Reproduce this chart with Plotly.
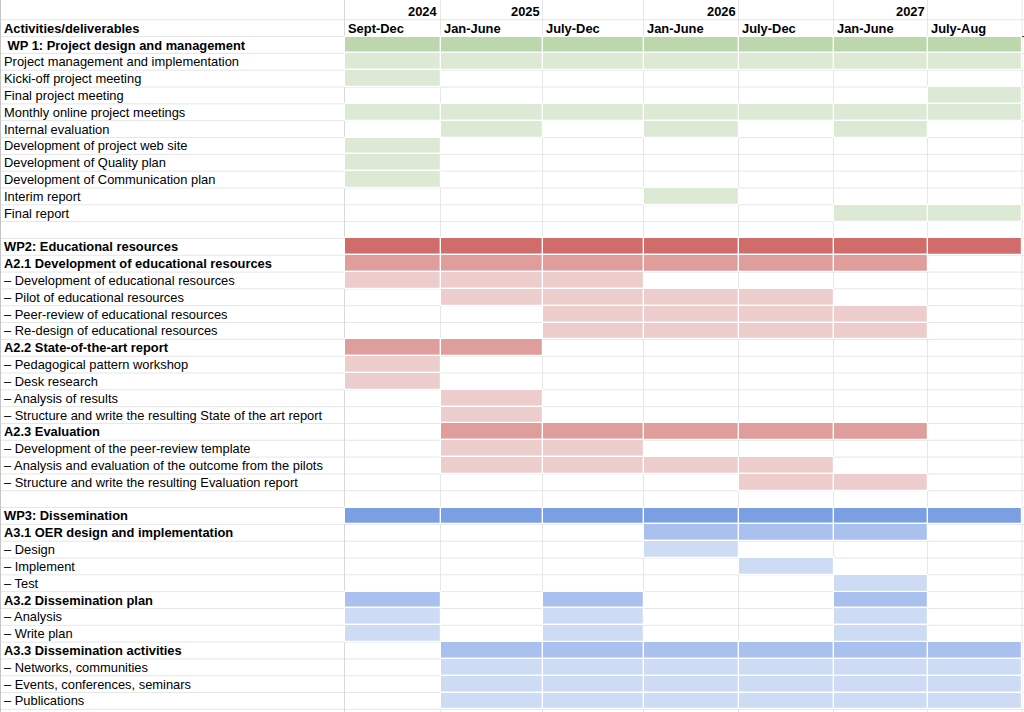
import plotly.graph_objects as go

# ---------------- data ----------------
PERIODS = ["Sept-Dec", "Jan-June", "July-Dec", "Jan-June", "July-Dec", "Jan-June", "July-Aug"]
YEARS = ["2024", "2025", "", "2026", "", "2027", ""]
HEADER = "Activities/deliverables"

ACTIVITIES = [
    "\u00a0WP 1: Project design and management",
    "Project management and implementation",
    "Kicki-off project meeting",
    "Final project meeting",
    "Monthly online project meetings",
    "Internal evaluation",
    "Development of project web site",
    "Development of Quality plan",
    "Development of Communication plan",
    "Interim report",
    "Final report",
    "",
    "WP2: Educational resources",
    "A2.1 Development of educational resources",
    "– Development of educational resources",
    "– Pilot of educational resources",
    "– Peer-review of educational resources",
    "– Re-design of educational resources",
    "A2.2 State-of-the-art report",
    "– Pedagogical pattern workshop",
    "– Desk research",
    "– Analysis of results",
    "– Structure and write the resulting State of the art report",
    "A2.3 Evaluation",
    "– Development of the peer-review template",
    "– Analysis and evaluation of the outcome from the pilots",
    "– Structure and write the resulting Evaluation report",
    "",
    "WP3: Dissemination",
    "A3.1 OER design and implementation",
    "– Design",
    "– Implement",
    "– Test",
    "A3.2 Dissemination plan",
    "– Analysis",
    "– Write plan",
    "A3.3 Dissemination activities",
    "– Networks, communities",
    "– Events, conferences, seminars",
    "– Publications",
]

# work package of each row
WORKPACKAGE = (["WP1"] * 11 + [""] + ["WP2"] * 15 + [""] + ["WP3"] * 12)

# level: 0 = work package, 1 = activity, 2 = task
LEVEL = [
    0, 2, 2, 2, 2, 2, 2, 2, 2, 2, 2,
    -1,
    0, 1, 2, 2, 2, 2, 1, 2, 2, 2, 2, 1, 2, 2, 2,
    -1,
    0, 1, 2, 2, 2, 1, 2, 2, 1, 2, 2, 2,
]

# 1 = active in period (Sept-Dec 2024 ... July-Aug 2027)
SCHEDULE = [
    "1111111",
    "1111111",
    "1000000",
    "0000001",
    "1111111",
    "0101010",
    "1000000",
    "1000000",
    "1000000",
    "0001000",
    "0000011",
    "0000000",
    "1111111",
    "1111110",
    "1110000",
    "0111100",
    "0011110",
    "0011110",
    "1100000",
    "1000000",
    "1000000",
    "0100000",
    "0100000",
    "0111110",
    "0110000",
    "0111100",
    "0000110",
    "0000000",
    "1111111",
    "0001110",
    "0001000",
    "0000100",
    "0000010",
    "1010010",
    "1010010",
    "1010010",
    "0111111",
    "0111111",
    "0111111",
    "0111111",
]

# ---------------- styles / layout ----------------
COLORS = {
    ("WP1", 0): "#bcd7ab",
    ("WP1", 2): "#dce9d4",
    ("WP2", 0): "#d06c6a",
    ("WP2", 1): "#df9d9b",
    ("WP2", 2): "#edcdcc",
    ("WP3", 0): "#7a9fe3",
    ("WP3", 1): "#aac0ee",
    ("WP3", 2): "#cddbf4",
}
LABEL_COL_RIGHT = 344.5
COL_WIDTHS = [96, 102, 101, 95, 95, 94, 94.5]
FIG_W, FIG_H = 1024, 712
ROW_PX = 16.82
FIRST_ROW_CENTER_PX = 45
FONT = "Liberation Sans, Arial, Helvetica, sans-serif"
FS = 12.9
GRID = "#e6e6e6"
TEXT_PAD = 2

col_edges = [LABEL_COL_RIGHT]
for w in COL_WIDTHS:
    col_edges.append(col_edges[-1] + w)

y_top = -FIRST_ROW_CENTER_PX / ROW_PX
y_bottom = (FIG_H - FIRST_ROW_CENTER_PX) / ROW_PX
n_rows = len(ACTIVITIES)

fig = go.Figure()

# grid lines
shapes = []
for k in range(-2, n_rows):
    yb = k + 0.5
    shapes.append(dict(type="line", xref="x", yref="y", x0=0, x1=FIG_W, y0=yb, y1=yb,
                       line=dict(color=GRID, width=1), layer="below"))
for j, xe in enumerate(col_edges):
    shapes.append(dict(type="line", xref="x", yref="y", x0=xe, x1=xe, y0=y_top, y1=y_bottom,
                       line=dict(color="#d9d9d9" if j == 0 else GRID, width=1), layer="below"))
shapes.append(dict(type="line", xref="x", yref="y", x0=0.5, x1=0.5, y0=y_top, y1=y_bottom,
                   line=dict(color="#c4c4c4", width=1), layer="below"))
shapes.append(dict(type="line", xref="x", yref="y", x0=col_edges[-1], x1=FIG_W, y0=-0.5, y1=-0.5,
                   line=dict(color="#333333", width=1)))

# cells as horizontal bars grouped by colour
groups = {}
for i, (wp, lvl, sched) in enumerate(zip(WORKPACKAGE, LEVEL, SCHEDULE)):
    if lvl < 0:
        continue
    for c, flag in enumerate(sched):
        if flag == "1":
            key = (wp, lvl)
            groups.setdefault(key, {"y": [], "x": [], "base": []})
            groups[key]["y"].append(i)
            groups[key]["base"].append(col_edges[c])
            groups[key]["x"].append(col_edges[c + 1] - col_edges[c])

for key, g in groups.items():
    fig.add_trace(go.Bar(
        orientation="h", y=g["y"], x=g["x"], base=g["base"], width=1,
        marker=dict(color=COLORS[key], line=dict(color="#ffffff", width=1.2)),
        hoverinfo="skip", showlegend=False,
    ))

# texts
ann = []
def add_text(x, y, text, bold=False, anchor="left"):
    ann.append(dict(x=x, y=y, xref="x", yref="y", text=f"<b>{text}</b>" if bold else text,
                    showarrow=False, xanchor=anchor, yanchor="middle",
                    font=dict(family=FONT, size=FS, color="#000000")))

add_text(TEXT_PAD, -1, HEADER, bold=True)
for c, p in enumerate(PERIODS):
    add_text(col_edges[c] + 1, -1, p, bold=True)
for c, yr in enumerate(YEARS):
    if yr:
        add_text(col_edges[c + 1] - 1, -2, yr, bold=True, anchor="right")
for i, (label, lvl) in enumerate(zip(ACTIVITIES, LEVEL)):
    if label:
        add_text(TEXT_PAD, i, label, bold=(lvl in (0, 1)))

fig.update_layout(
    width=FIG_W, height=FIG_H,
    margin=dict(l=0, r=0, t=0, b=0),
    paper_bgcolor="#ffffff", plot_bgcolor="#ffffff",
    barmode="overlay", bargap=0,
    xaxis=dict(range=[0, FIG_W], visible=False, fixedrange=True),
    yaxis=dict(range=[y_bottom, y_top], visible=False, fixedrange=True),
    shapes=shapes, annotations=ann,
)

fig.write_html(
    "out.html",
    config={"displayModeBar": False},
    post_script="document.body.style.margin='0';document.body.style.overflow='hidden';",
)
